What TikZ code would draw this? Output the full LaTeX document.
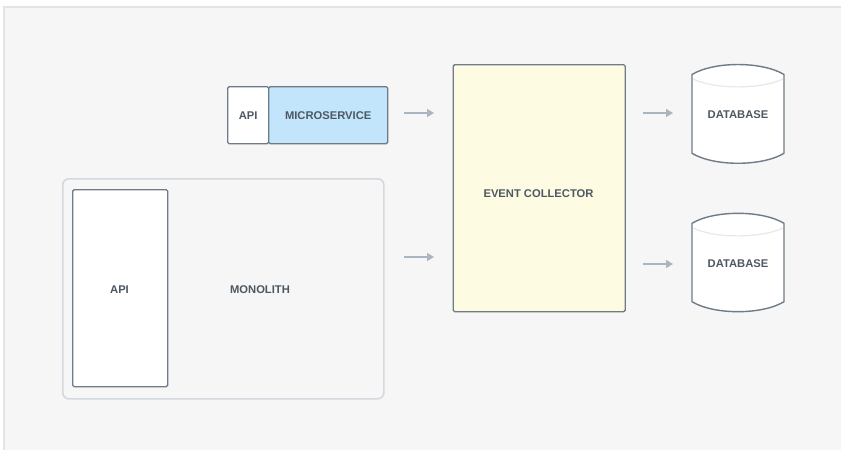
\documentclass[tikz,border=0pt]{standalone}
\usepackage{fontspec}
\setmainfont{Liberation Sans}
\usetikzlibrary{arrows.meta}
\definecolor{bgc}{HTML}{F6F6F6}
\definecolor{bgedge}{HTML}{E4E4E4}
\definecolor{edgec}{HTML}{6F7C87}
\definecolor{txtc}{HTML}{4D5862}
\definecolor{arrc}{HTML}{A9B5BF}
\definecolor{msblue}{HTML}{C2E5FC}
\definecolor{ecyellow}{HTML}{FEFBE3}
\definecolor{monoedge}{HTML}{D3D9DE}
\definecolor{innerarc}{HTML}{E8E8E8}
\tikzset{
  lbl/.style={font=\fontsize{11.2}{13}\selectfont\bfseries, text=txtc},
  boxs/.style={draw=edgec, line width=1.4pt, rounded corners=1.5pt},
  arr/.style={draw=arrc, line width=1.6pt, -{Triangle[length=7pt,width=8pt]}},
  dbs/.style={draw=edgec, line width=1.4pt, fill=white, line join=round}
}
\begin{document}
\begin{tikzpicture}[x=1pt,y=-1pt]
\useasboundingbox (0,0) rectangle (841,450);
% background
\fill[bgc] (4,7) rectangle (841,450);
\draw[bgedge, line width=1.5pt] (4,450) -- (4,7) -- (841,7);

% microservice
\node[boxs, fill=white, minimum width=41pt, minimum height=57pt, anchor=north west, inner sep=0pt] (msapi) at (227,86) {};
\node[lbl] at (msapi.center) {API};
\node[boxs, fill=msblue, minimum width=119pt, minimum height=57pt, anchor=north west, inner sep=0pt] (ms) at (268,86) {};
\node[lbl] at (ms.center) {MICROSERVICE};

% monolith
\node[draw=monoedge, line width=1.6pt, rounded corners=6pt, minimum width=321pt, minimum height=220pt, anchor=north west, inner sep=0pt] (mono) at (62,178) {};
\node[boxs, fill=white, minimum width=95pt, minimum height=197pt, anchor=north west, inner sep=0pt] (monoapi) at (72,189) {};
\node[lbl] at (119.5,290) {API};
\node[lbl] (monolbl) at (260,290) {MONOLITH};

% event collector
\node[boxs, fill=ecyellow, minimum width=172pt, minimum height=247pt, anchor=north west, inner sep=0pt] (ec) at (452.5,64) {};
\node[lbl] at (538.5,194) {EVENT COLLECTOR};

% databases
\draw[dbs] (692,74.5) .. controls (714,61.2) and (762,61.2) .. (784,74.5) -- (784,153.3) .. controls (762,166.6) and (714,166.6) .. (692,153.3) -- cycle;
\draw[innerarc, line width=1.2pt] (693,79) .. controls (715,89.5) and (761,89.5) .. (783,79);
\node[lbl] (db1) at (738,115) {DATABASE};

\draw[dbs] (692,223.3) .. controls (714,210) and (762,210) .. (784,223.3) -- (784,301.7) .. controls (762,315) and (714,315) .. (692,301.7) -- cycle;
\draw[innerarc, line width=1.2pt] (693,228) .. controls (715,238.5) and (761,238.5) .. (783,228);
\node[lbl] (db2) at (738,263.5) {DATABASE};

% arrows
\coordinate (a1s) at (404,113);
\coordinate (a1e) at (434,113);
\coordinate (a2s) at (404,257);
\coordinate (a2e) at (434,257);
\coordinate (a3s) at (643,113);
\coordinate (a3e) at (673,113);
\coordinate (a4s) at (643,264);
\coordinate (a4e) at (673,264);
\draw[arr] (a1s) -- (a1e);
\draw[arr] (a2s) -- (a2e);
\draw[arr] (a3s) -- (a3e);
\draw[arr] (a4s) -- (a4e);
\end{tikzpicture}
\end{document}
